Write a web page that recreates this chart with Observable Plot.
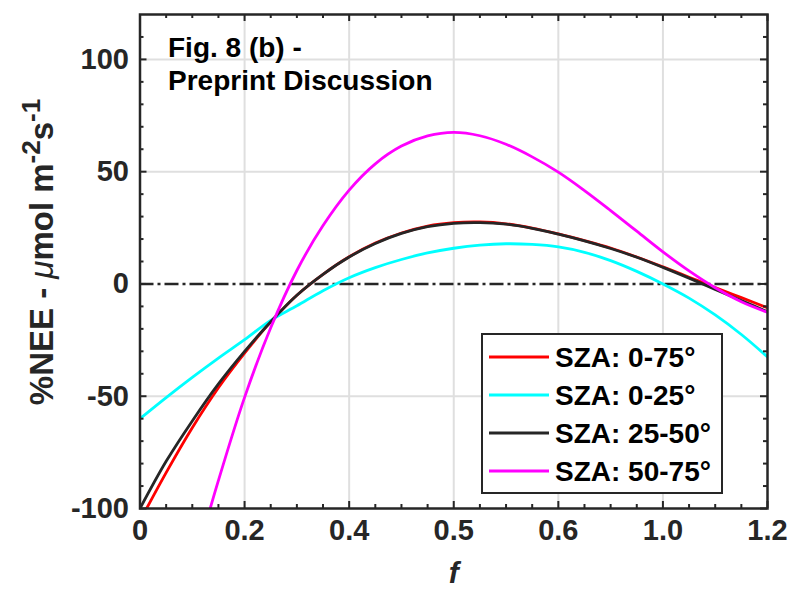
<!DOCTYPE html>
<html><head><meta charset="utf-8">
<script src="https://cdn.jsdelivr.net/npm/d3@7"></script>
<script src="https://cdn.jsdelivr.net/npm/@observablehq/plot@0.6"></script>
<style>body{margin:0;background:#fff;}</style>
</head><body><div id="chart"></div>
<script>
// ---- data ----
const xGrid = [0, 0.05, 0.1, 0.15, 0.2, 0.25, 0.3, 0.35, 0.4, 0.45, 0.5, 0.55, 0.6, 0.65, 0.7, 0.75, 0.8, 0.85, 0.9, 0.95, 1.0, 1.05, 1.1, 1.15, 1.2];
const yRed   = [-105.5, -84, -64, -46.2, -30.8, -16.9, -5.0, 4.3, 12.1, 18.2, 22.7, 25.8, 27.3, 27.6, 26.8, 24.9, 22.3, 19.3, 16.0, 12.0, 7.6, 3.0, -1.6, -6.1, -10.6];
const yCyan  = [-60, -50.6, -41.6, -33.0, -24.8, -16.2, -9.7, -3.0, 2.8, 7.3, 10.9, 13.8, 15.9, 17.3, 17.9, 17.6, 16.5, 14.1, 10.4, 5.6, 0, -6.3, -13.8, -22.5, -32.5];
const yBlack = [-100, -79, -61, -44.5, -30, -16.8, -5.0, 4.3, 12.0, 18.0, 22.5, 25.5, 27.0, 27.3, 26.6, 24.8, 22.2, 19.2, 15.8, 11.9, 7.4, 2.6, -2.4, -7.4, -12.4];
const xMagenta = [0.1, 0.15, 0.2, 0.25, 0.3, 0.35, 0.4, 0.45, 0.5, 0.55, 0.6, 0.65, 0.7, 0.75, 0.8, 0.85, 0.9, 0.95, 1.0, 1.05, 1.1, 1.15, 1.2];
const yMagenta = [-128, -87.5, -50.5, -19.5, 6.0, 26.0, 41.8, 53.5, 61.4, 65.9, 67.5, 66.0, 62.2, 56.6, 49.8, 41.6, 32.7, 23.5, 14.3, 5.8, -1.7, -7.9, -12.6];

const seriesNames  = ["SZA: 0-75°", "SZA: 0-25°", "SZA: 25-50°", "SZA: 50-75°"];
const seriesColors = ["#ff0000", "#00ffff", "#262626", "#ff00ff"];

const xTickValues = [0, 0.2, 0.4, 0.6, 0.8, 1.0, 1.2];
const xTickLabels = ["0", "0.2", "0.4", "0.5", "0.6", "1.0", "1.2"];
const xMinorTicks = [0.05, 0.1, 0.15, 0.25, 0.3, 0.35, 0.45, 0.5, 0.55, 0.65, 0.7, 0.75, 0.85, 0.9, 0.95, 1.05, 1.1, 1.15];
const yTickValues = [-100, -50, 0, 50, 100];
const yTickLabels = ["-100", "-50", "0", "50", "100"];
const yMinorTicks = [-90, -80, -70, -60, -40, -30, -20, -10, 10, 20, 30, 40, 60, 70, 80, 90, 110];

const annotation = "Fig. 8 (b) -\nPreprint Discussion";
const xLabel = "f";

// ---- layout ----
const W = 794, H = 592, mL = 139.5, mR = 27, mT = 14, mB = 84;
const fw = W - mL - mR, fh = H - mT - mB;
const ink = "#262626", gridC = "#dfdfdf";
const font = "'Liberation Sans', Arial, Helvetica, sans-serif";

const toRows = (xs, ys) => xs.map((x, i) => ({x, y: ys[i]}));
const seriesData = [toRows(xGrid, yRed), toRows(xGrid, yCyan), toRows(xGrid, yBlack), toRows(xMagenta, yMagenta)];

const xLab = new Map(xTickValues.map((v, i) => [v, xTickLabels[i]]));
const yLab = new Map(yTickValues.map((v, i) => [v, yTickLabels[i]]));

const plot = Plot.plot({
  width: W, height: H,
  marginLeft: mL, marginRight: mR, marginTop: mT, marginBottom: mB,
  x: {domain: [0, 1.2]},
  y: {domain: [-100, 120]},
  style: {fontFamily: font, fontWeight: "bold", fontSize: "28px", color: ink, background: "white", overflow: "visible"},
  marks: [
    Plot.ruleX(xTickValues.slice(1, -1), {stroke: gridC, strokeWidth: 2}),
    Plot.ruleY(yTickValues.filter(v => v !== -100 && v !== 0), {stroke: gridC, strokeWidth: 2}),
    Plot.ruleY([0], {stroke: ink, strokeWidth: 2.5, strokeDasharray: "14,4,3,4"}),
    ...seriesData.map((d, i) => Plot.line(d, {x: "x", y: "y", stroke: seriesColors[i], strokeWidth: 2.8, curve: "catmull-rom", clip: true})),
    // inward ticks (bottom, top, left, right)
    Plot.tickX(xTickValues, {x: d => d, stroke: ink, strokeWidth: 2, insetTop: fh - 7}),
    Plot.tickX(xTickValues, {x: d => d, stroke: ink, strokeWidth: 2, insetBottom: fh - 7}),
    Plot.tickX(xMinorTicks, {x: d => d, stroke: ink, strokeWidth: 2, insetTop: fh - 4}),
    Plot.tickX(xMinorTicks, {x: d => d, stroke: ink, strokeWidth: 2, insetBottom: fh - 4}),
    Plot.tickY(yTickValues, {y: d => d, stroke: ink, strokeWidth: 2, insetRight: fw - 7}),
    Plot.tickY(yTickValues, {y: d => d, stroke: ink, strokeWidth: 2, insetLeft: fw - 7}),
    Plot.tickY(yMinorTicks, {y: d => d, stroke: ink, strokeWidth: 2, insetRight: fw - 4}),
    Plot.tickY(yMinorTicks, {y: d => d, stroke: ink, strokeWidth: 2, insetLeft: fw - 4}),
    Plot.frame({stroke: ink, strokeWidth: 2.5}),
    Plot.axisX(xTickValues, {tickSize: 0, tickPadding: 11, tickFormat: d => xLab.get(d), label: null, fontSize: 29, fontWeight: "bold", fill: ink}),
    Plot.axisY(yTickValues, {tickSize: 0, tickPadding: 11, tickFormat: d => yLab.get(d), label: null, fontSize: 29, fontWeight: "bold", fill: ink}),
    Plot.text([annotation], {frameAnchor: "top-left", dx: 28, dy: 20, textAnchor: "start", lineAnchor: "top", lineHeight: 1.15, fontSize: 28, fontWeight: "bold", fill: "black"}),
    Plot.text([xLabel], {frameAnchor: "bottom", dy: 74, fontSize: 30, fontWeight: "bold", fontStyle: "italic", fill: ink})
  ]
});
document.getElementById("chart").appendChild(plot);

// ---- y label with superscripts ----
const svg = d3.select(plot);
const yl = svg.append("text")
  .attr("transform", `translate(53, 252) rotate(-90)`)
  .attr("text-anchor", "middle")
  .attr("fill", ink)
  .style("font-family", font).style("font-size", "33px").style("font-weight", "bold");
yl.append("tspan").text("%NEE - ");
yl.append("tspan").text("μ").style("font-style", "italic").style("font-weight", "normal");
yl.append("tspan").text("mol m");
yl.append("tspan").text("-2").attr("dy", -13).style("font-size", "26px");
yl.append("tspan").text("s").attr("dy", 13);
yl.append("tspan").text("-1").attr("dy", -13).style("font-size", "26px");

// ---- legend ----
const lg = svg.append("g");
lg.append("rect").attr("x", 482).attr("y", 334).attr("width", 240).attr("height", 159)
  .attr("fill", "white").attr("stroke", ink).attr("stroke-width", 2);
seriesNames.forEach((name, i) => {
  const cy = 357 + i * 38;
  lg.append("line").attr("x1", 489).attr("x2", 549).attr("y1", cy).attr("y2", cy)
    .attr("stroke", seriesColors[i]).attr("stroke-width", 2.8);
  lg.append("text").attr("x", 555).attr("y", cy).attr("dy", "0.36em")
    .attr("text-anchor", "start")
    .attr("fill", "black").style("font-family", font).style("font-size", "28px").style("font-weight", "bold")
    .text(name);
});
</script>
</body></html>
